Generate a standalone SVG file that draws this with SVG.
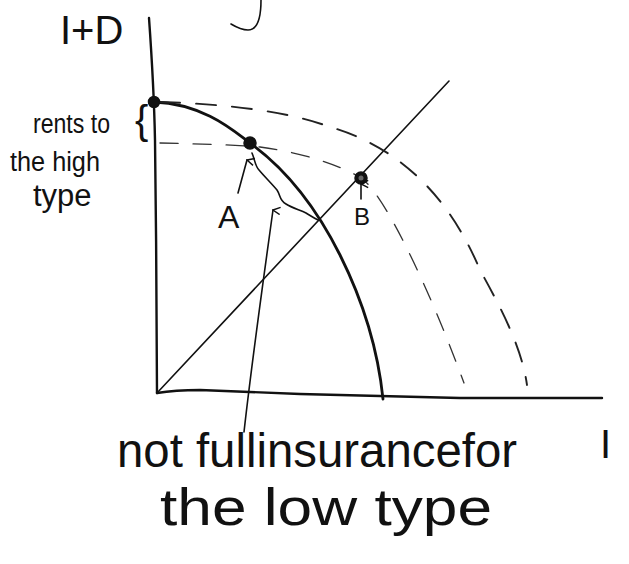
<svg xmlns="http://www.w3.org/2000/svg" width="629" height="564" viewBox="0 0 629 564">
<style>
.hand{font-family:"Liberation Sans","DejaVu Sans",sans-serif;fill:#111;}
.axis{fill:none;stroke:#111;stroke-width:2.4;stroke-linecap:round;}
.solid{fill:none;stroke:#111;stroke-width:2.8;stroke-linecap:round;}
.thin{fill:none;stroke:#111;stroke-width:1.6;stroke-linecap:round;}
.dashOuter{fill:none;stroke:#222;stroke-width:1.9;stroke-dasharray:20 16;stroke-linecap:round;}
.dashInner{fill:none;stroke:#333;stroke-width:1.3;stroke-dasharray:18 15;stroke-linecap:round;}
.dot{fill:#111;stroke:#111;stroke-width:1.5;}
</style>
<defs>
<marker id="head" viewBox="0 0 10 10" refX="5" refY="1" markerWidth="9" markerHeight="9" orient="auto-start-reverse" markerUnits="userSpaceOnUse">
<path d="M1,9 L5,1 L9,9" fill="none" stroke="#111" stroke-width="1.6"/>
</marker>
</defs>
<rect width="629" height="564" fill="#fff"/>

<!-- stray stroke at top -->
<path class="thin" d="M261,0 C261,18 258,30 248,30 C242,30 236,27 231,24" stroke-width="2"/>

<g id="axes">
<path class="axis" d="M149,18 C152,60 154,90 155,140 C156,220 157,330 157,393"/>
<path class="axis" d="M157,393 C175,390 190,390 200,390 L300,394 L460,398 L602,398" stroke-linejoin="round"/>
<path class="thin" d="M157,393 L449,81" stroke-width="2"/>
</g>

<g id="curves">
<path class="solid" d="M154,102 C205,104 235,132 250,143 C290,172 320,215 340,255 C365,305 378,350 383,399"/>
<path class="dashOuter" d="M160,102 C230,104 290,112 330,127 C410,150 455,210 480,270 C505,315 522,350 527,385"/>
<path class="dashInner" d="M160,143 C200,144 240,145 260,147 C300,152 340,165 361,178 C383,192 428,285 464,383"/>
<path class="thin" d="M252,153 C255,160 255,166 259,170 C264,176 272,184 277,190 C281,196 279,200 286,204 C292,208 300,210 306,213 C311,216 314,218 318,220" stroke-width="1.4"/>
</g>

<g id="node-top">
<circle class="dot" cx="154" cy="102" r="5.5"/>
</g>
<g id="node-A">
<circle class="dot" cx="250" cy="143" r="6"/>
<text class="hand" x="218" y="228" font-size="32">A</text>
</g>
<g id="node-B">
<circle class="dot" cx="361" cy="178" r="6"/>
<circle cx="361" cy="178" r="2.5" fill="#666"/>
<text class="hand" x="354" y="225" font-size="24">B</text>
</g>

<g id="connectors">
<path class="thin" d="M238,193 L247,160" marker-end="url(#head)" stroke-width="2"/>
<path class="thin" d="M244,432 C252,360 262,290 273,210" marker-end="url(#head)" stroke-width="1.6"/>
<path class="thin" d="M361,199 L361,184" marker-end="url(#head)" stroke-width="2"/>
</g>

<g id="labels">
<text class="hand" x="60" y="44" font-size="40">I+D</text>
<text class="hand" x="135" y="134" font-size="40">{</text>
<text class="hand" x="33" y="133" font-size="27" textLength="77" lengthAdjust="spacingAndGlyphs">rents to</text>
<text class="hand" x="10" y="171" font-size="27" textLength="90" lengthAdjust="spacingAndGlyphs">the high</text>
<text class="hand" x="33" y="206" font-size="31">type</text>
<text class="hand" x="117" y="467" font-size="48" textLength="400" lengthAdjust="spacingAndGlyphs">not fullinsurancefor</text>
<text class="hand" x="160" y="525" font-size="52" textLength="332" lengthAdjust="spacingAndGlyphs">the low type</text>
<text class="hand" x="600" y="458" font-size="40">I</text>
</g>
</svg>
